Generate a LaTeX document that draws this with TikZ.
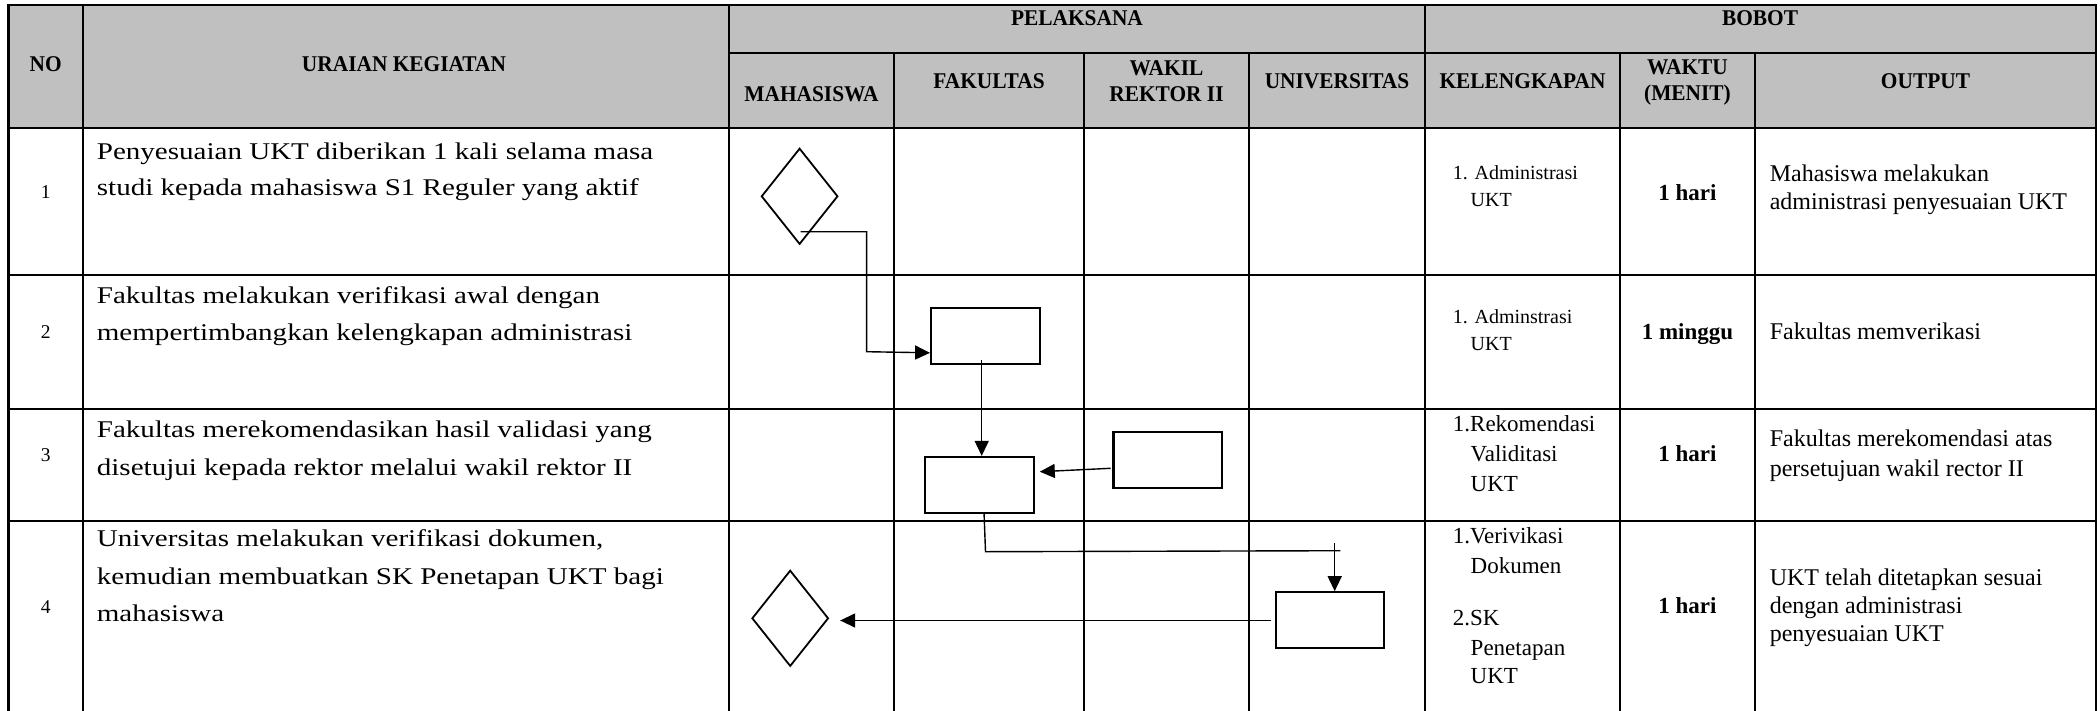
\documentclass[tikz,border=0pt]{standalone}
\usepackage{fontspec}
\setmainfont{Liberation Serif}
\newfontfamily\bodyf[FakeStretch=1.21]{Liberation Serif}
\newfontfamily\hdrf[FakeStretch=0.95]{Liberation Serif}
\usetikzlibrary{shapes.geometric,arrows.meta,calc}
\definecolor{hdrgray}{RGB}{192,192,192}
\tikzset{
  tbl/.style={line width=2.2pt, line cap=rect},
  hdr/.style={anchor=base, inner sep=0pt, font=\hdrf\bfseries\fontsize{22.5}{24}\selectfont},
  body/.style={anchor=base west, inner sep=0pt, font=\bodyf\fontsize{24}{28}\selectfont},
  num/.style={anchor=base, inner sep=0pt, font=\fontsize{19.5}{22}\selectfont},
  kels/.style={anchor=base west, inner sep=0pt, font=\fontsize{20}{24}\selectfont},
  kelb/.style={anchor=base west, inner sep=0pt, font=\fontsize{23}{26}\selectfont},
  wkt/.style={anchor=base, inner sep=0pt, font=\bfseries\fontsize{23}{26}\selectfont},
  outp/.style={anchor=base west, inner sep=0pt, font=\fontsize{24}{28}\selectfont},
  boxnode/.style={draw, line width=2.2pt, minimum width=108.6pt, minimum height=56pt, inner sep=0pt},
  dianode/.style={draw, diamond, line width=1.8pt, minimum width=76.5pt, minimum height=96pt, inner sep=0pt},
  conn/.style={line width=1.4pt},
  arr/.style={-{Triangle[length=15pt,width=14pt]}}
}
\begin{document}
\begin{tikzpicture}[x=1pt,y=-1pt]
\useasboundingbox (0,0) rectangle (2100,710);
% header fill
\fill[hdrgray] (8.5,5) rectangle (2096,128);
% horizontal lines
\draw[tbl] (8.5,5) -- (2096,5);
\draw[tbl] (729,53) -- (2096,53);
\draw[tbl] (8.5,128) -- (2096,128);
\draw[tbl] (8.5,275) -- (2096,275);
\draw[tbl] (8.5,409) -- (2096,409);
\draw[tbl] (8.5,521) -- (2096,521);
% vertical lines
\foreach \xx in {8.5,83,729,1425,2096} {\draw[tbl] (\xx,5) -- (\xx,710);}
\foreach \xx in {894,1084,1249,1620,1755} {\draw[tbl] (\xx,53) -- (\xx,710);}
% header texts
\node[hdr] (hno) at (45.7,71.7) {NO};
\node[hdr] (hur) at (404,71.7) {URAIAN KEGIATAN};
\node[hdr] (hpel) at (1077,25.7) {PELAKSANA};
\node[hdr] (hbob) at (1760,25.7) {BOBOT};
\node[hdr] (hmhs) at (811.5,101.7) {MAHASISWA};
\node[hdr] (hfak) at (989,88.3) {FAKULTAS};
\node[hdr] (hwr1) at (1166.5,75) {WAKIL};
\node[hdr] (hwr2) at (1166.5,101) {REKTOR II};
\node[hdr] (huni) at (1337,88.3) {UNIVERSITAS};
\node[hdr] (hkel) at (1522.5,88.3) {KELENGKAPAN};
\node[hdr] (hwk1) at (1687.5,74) {WAKTU};
\node[hdr] (hwk2) at (1687.5,100) {(MENIT)};
\node[hdr] (hout) at (1925.5,88.3) {OUTPUT};
% numbers
\node[num] (n1) at (45.7,198.3) {1};
\node[num] (n2) at (45.7,338.3) {2};
\node[num] (n3) at (45.7,461.7) {3};
\node[num] (n4) at (45.7,613.3) {4};
% uraian
\node[body] (u1a) at (96.7,159.5) {Penyesuaian UKT diberikan 1 kali selama masa};
\node[body] (u1b) at (96.7,195.5) {studi kepada mahasiswa S1 Reguler yang aktif};
\node[body] (u2a) at (96.7,303.3) {Fakultas melakukan verifikasi awal dengan};
\node[body] (u2b) at (96.7,340) {mempertimbangkan kelengkapan administrasi};
\node[body] (u3a) at (96.7,437.3) {Fakultas merekomendasikan hasil validasi yang};
\node[body] (u3b) at (96.7,475) {disetujui kepada rektor melalui wakil rektor II};
\node[body] (u4a) at (96.7,546.7) {Universitas melakukan verifikasi dokumen,};
\node[body] (u4b) at (96.7,584) {kemudian membuatkan SK Penetapan UKT bagi};
\node[body] (u4c) at (96.7,621) {mahasiswa};
% kelengkapan
\node[kels] (k1a) at (1452.7,179) {1. Administrasi};
\node[kels] (k1b) at (1470.5,206) {UKT};
\node[kels] (k2a) at (1452.7,323.5) {1. Adminstrasi};
\node[kels] (k2b) at (1470.5,350) {UKT};
\node[kelb] (k3a) at (1452.7,431.7) {1.Rekomendasi};
\node[kelb] (k3b) at (1470.5,461.7) {Validitasi};
\node[kelb] (k3c) at (1470.5,491.7) {UKT};
\node[kelb] (k4a) at (1452.7,543.3) {1.Verivikasi};
\node[kelb] (k4b) at (1470.5,573.3) {Dokumen};
\node[kelb] (k4c) at (1452.7,625) {2.SK};
\node[kelb] (k4d) at (1470.5,655) {Penetapan};
\node[kelb] (k4e) at (1470.5,683.3) {UKT};
% waktu
\node[wkt] (w1) at (1687.5,200) {1 hari};
\node[wkt] (w2) at (1687.5,339) {1 minggu};
\node[wkt] (w3) at (1687.5,461.7) {1 hari};
\node[wkt] (w4) at (1687.5,613.3) {1 hari};
% output
\node[outp] (o1a) at (1769.6,181) {Mahasiswa melakukan};
\node[outp] (o1b) at (1769.6,209) {administrasi penyesuaian UKT};
\node[outp] (o2a) at (1769.6,339) {Fakultas memverikasi};
\node[outp] (o3a) at (1769.6,446.7) {Fakultas merekomendasi atas};
\node[outp] (o3b) at (1769.6,476.7) {persetujuan wakil rector II};
\node[outp] (o4a) at (1769.6,585) {UKT telah ditetapkan sesuai};
\node[outp] (o4b) at (1769.6,613.3) {dengan administrasi};
\node[outp] (o4c) at (1769.6,641.7) {penyesuaian UKT};
% flow shapes
\node[dianode] (d1) at (799.6,196.3) {};
\node[boxnode] (bA) at (985.5,335.7) {};
\node[boxnode] (bB) at (979.6,485) {};
\node[boxnode] (bC) at (1167.7,460) {};
\node[boxnode] (bD) at (1330,620.3) {};
\node[dianode] (d2) at (790.2,618.3) {};
% connectors
\coordinate (c1a) at (800.5,231.7);
\draw[conn,arr] (c1a) -- (866.6,231.7) -- (866.6,351.7) -- ($(bA.south west)+(0,-12)$);
\coordinate (c2a) at (981.7,360);
\draw[conn,arr] (c2a) -- (c2a |- bB.north);
\coordinate (c3a) at (1110.6,468.3);
\draw[conn,arr] (c3a) -- ($(bB.east)+(4.8,-13.3)$);
\draw[conn] ($(bB.south)+(4.4,-2)$) -- (985.5,551.7) -- (1340.4,550.7);
\coordinate (c4b) at (1334.7,543.3);
\draw[conn,arr] (c4b) -- (c4b |- bD.north);
\draw[conn,arr] ($(bD.west)+(-3.7,0.2)$) -- ($(d2.east)+(10.8,2.2)$);
\end{tikzpicture}
\end{document}
